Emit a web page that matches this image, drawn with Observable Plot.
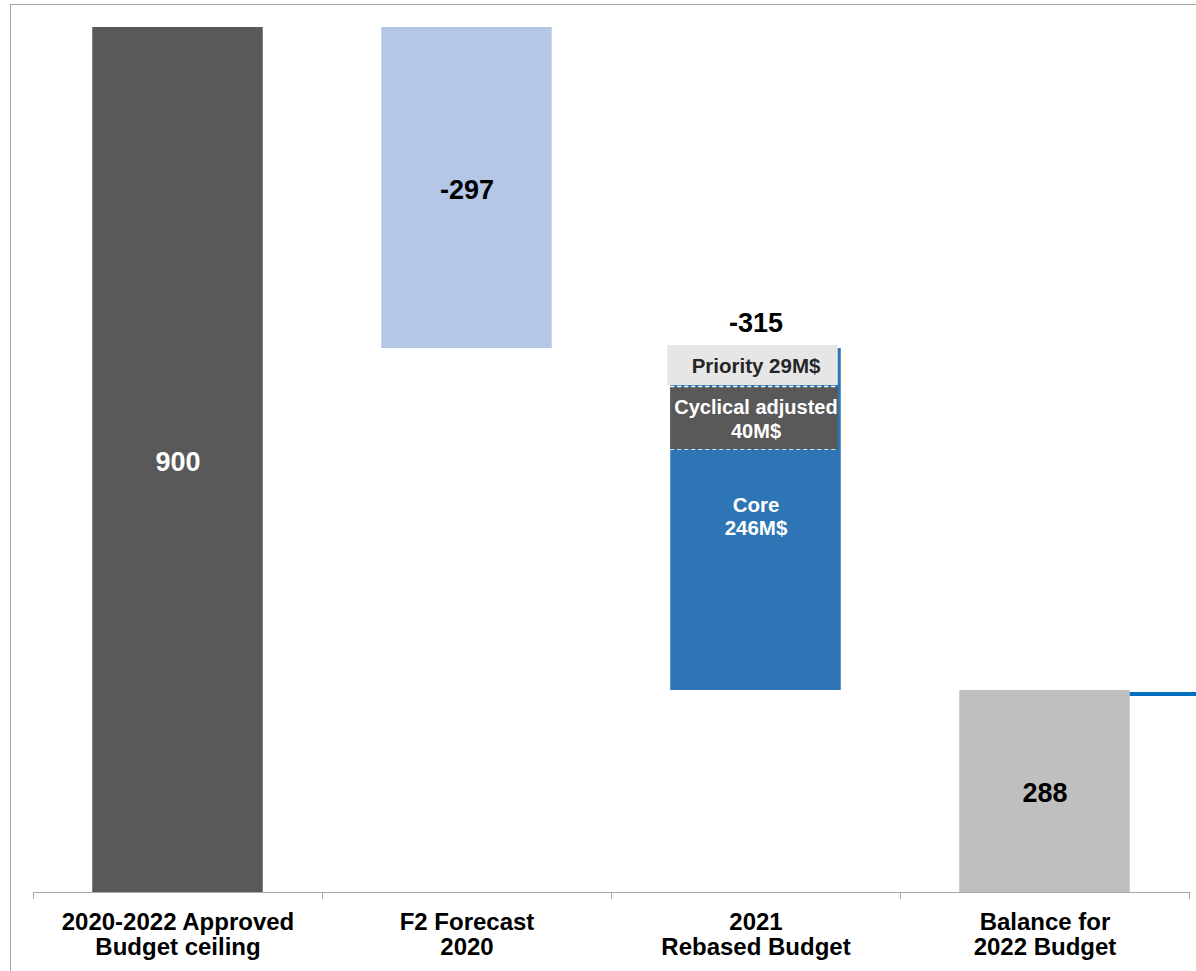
<!DOCTYPE html>
<html>
<head>
<meta charset="utf-8">
<script src="https://cdn.jsdelivr.net/npm/d3@7"></script>
<script src="https://cdn.jsdelivr.net/npm/@observablehq/plot@0.6"></script>
<style>
  body { margin: 0; background: #ffffff; font-family: "Liberation Sans", Arial, sans-serif; }
  #wrap { position: relative; width: 1196px; height: 971px; overflow: hidden; }
  #border { position: absolute; left: 10px; top: 4px; width: 1200px; height: 980px;
            border-top: 1.5px solid #a6a6a6; border-left: 1.5px solid #a6a6a6; pointer-events: none; }
</style>
</head>
<body>
<div id="wrap"></div>
<script>
// ---- data ----
const categories = ["2020-2022 Approved\nBudget ceiling", "F2 Forecast\n2020", "2021\nRebased Budget", "Balance for\n2022 Budget"];
const values = [900, -297, -315, 288];
const valueLabels = ["900", "-297", "-315", "288"];
const barColors = ["#595959", "#B4C7E7", "#2E75B6", "#BFBFBF"];
const valueLabelColors = ["#ffffff", "#000000", "#000000", "#000000"];

const parts = ["Core", "Cyclical adjusted", "Priority"];
const partValues = [246, 40, 29];
const partLabels = ["Core\n246M$", "Cyclical adjusted\n40M$", "Priority 29M$"];
const partColors = ["#2E75B6", "#595959", "#E7E6E6"];
const partTextColors = ["#ffffff", "#ffffff", "#262626"];

// ---- waterfall layout ----
const n = categories.length;
let run = 0;
const bars = categories.map((c, i) => {
  if (i === 0 || i === n - 1) { run = values[i]; return {i, y1: 0, y2: values[i]}; }
  const a = run; run += values[i];
  return {i, y1: run, y2: a};
});
const splitIndex = 2;
let base = bars[splitIndex].y1;
const partRows = parts.map((p, k) => {
  const r = {i: splitIndex, k, y1: base, y2: base + partValues[k]};
  base += partValues[k];
  return r;
});

// piecewise linear y scale (the original is drawn not-to-scale)
const yDomain = Array.from(new Set([0, ...bars.map(b => b.y1), ...bars.map(b => b.y2), ...partRows.map(p => p.y2)])).sort((a, b) => a - b);
const yRange = [892, 690, 449, 387, 348, 27];
const yOpts = {type: "linear", domain: yDomain, range: yRange};
const ys = Plot.scale({y: yOpts});
const yInv = d3.scaleLinear().domain(yDomain).range(yRange);
const mid = (a, b) => yInv.invert((ys.apply(a) + ys.apply(b)) / 2);

const W0 = 0.205, W1 = 0.795;
const font = {fontWeight: "bold"};

const plot = Plot.plot({
  width: 1196,
  height: 971,
  marginLeft: 33,
  marginRight: 7,
  marginTop: 27,
  marginBottom: 79,
  x: {type: "linear", domain: [0, n], range: [33, 1189], axis: null},
  y: {...yOpts, axis: null},
  style: {fontFamily: "'Liberation Sans', Arial, sans-serif", background: "transparent", overflow: "hidden"},
  marks: [
    // bars
    Plot.rect(bars, {x1: d => d.i + W0, x2: d => d.i + W1, y1: "y1", y2: "y2", fill: d => barColors[d.i]}),
    // stacked components of the rebased budget
    Plot.rect(partRows.filter(d => d.k === 1), {x1: d => d.i + W0, x2: d => d.i + W1, y1: "y1", y2: "y2",
      fill: d => partColors[d.k], insetRight: 3}),
    Plot.rect(partRows.filter(d => d.k === 2), {x1: d => d.i + W0, x2: d => d.i + W1, y1: "y1", y2: "y2",
      fill: d => partColors[d.k], insetLeft: -3, insetRight: 3, insetTop: -3, insetBottom: 2}),
    Plot.ruleY([partRows[2].y1], {x1: splitIndex + W0, x2: splitIndex + W1 - 0.01, dy: -1,
      stroke: "#ffffff", strokeWidth: 1.5, strokeDasharray: "4 3"}),
    Plot.ruleY([partRows[1].y1], {x1: splitIndex + W0, x2: splitIndex + W1 - 0.01,
      stroke: "#ffffff", strokeOpacity: 0.8, strokeWidth: 1, strokeDasharray: "4 3"}),
    // connector on the right
    Plot.ruleY([bars[n - 1].y2], {x1: n - 1 + W1, x2: n + 0.03, dy: 3.5, stroke: "#0070C0", strokeWidth: 4}),
    // axis
    Plot.ruleY([0], {x1: 0, x2: n, stroke: "#a6a6a6", strokeWidth: 1.2}),
    Plot.axisX({ticks: d3.range(n + 1), tickSize: 7, tickFormat: () => "", stroke: "#a6a6a6"}),
    Plot.text(categories, {x: (d, i) => i + 0.5, y: 0, text: d => d, lineAnchor: "top", dy: 19,
      fontSize: 24, lineHeight: 1.06, fill: "#000000", ...font}),
    // value labels
    Plot.text(bars.filter(d => d.i !== splitIndex), {x: d => d.i + 0.5, y: d => mid(d.y1, d.y2), dy: 2,
      text: d => valueLabels[d.i], fill: d => valueLabelColors[d.i], fontSize: 27, ...font}),
    Plot.text(bars.filter(d => d.i === splitIndex), {x: d => d.i + 0.5, y: "y2", dy: -25,
      text: d => valueLabels[d.i], fill: d => valueLabelColors[d.i], fontSize: 27, ...font}),
    // component labels
    Plot.text(partRows.filter(d => d.k === 0), {x: d => d.i + 0.5, y: "y2", lineAnchor: "top", dy: 46,
      text: d => partLabels[d.k], fill: d => partTextColors[d.k], fontSize: 20.5, lineHeight: 1.12, ...font}),
    Plot.text(partRows.filter(d => d.k === 1), {x: d => d.i + 0.5, y: d => mid(d.y1, d.y2),
      text: d => partLabels[d.k], fill: d => partTextColors[d.k], fontSize: 20, lineHeight: 1.2, ...font}),
    Plot.text(partRows.filter(d => d.k === 2), {x: d => d.i + 0.5, y: d => mid(d.y1, d.y2), dy: -2,
      text: d => partLabels[d.k], fill: d => partTextColors[d.k], fontSize: 20.5, ...font})
  ]
});

const wrap = document.getElementById("wrap");
wrap.appendChild(plot);
const border = document.createElement("div");
border.id = "border";
wrap.appendChild(border);
</script>
</body>
</html>
